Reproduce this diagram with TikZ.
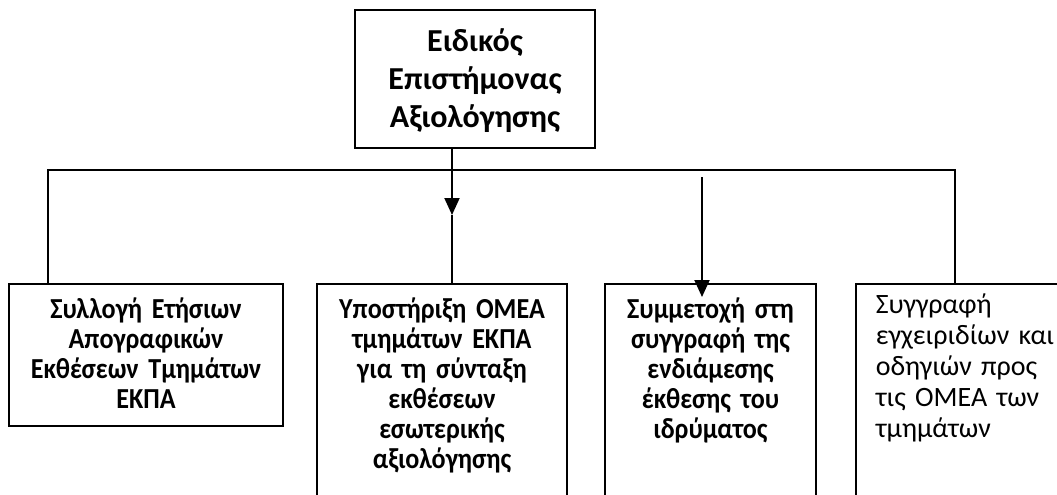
\documentclass[tikz,border=0pt]{standalone}
\usepackage{fontspec}
\setmainfont{Carlito}
\newfontfamily\narrowfont[FakeStretch=0.9]{Carlito}
\usetikzlibrary{positioning, arrows.meta}
\newcommand{\jline}[1]{\makebox[\linewidth][s]{#1}}
\lineskiplimit=-100pt

\begin{document}
\begin{tikzpicture}[x=1pt, y=-1pt, line width=2pt,
  box/.style={draw, line width=1.6pt, inner sep=0pt, align=center, anchor=north, text height=35pt, text depth=230pt, font=\narrowfont\bfseries\fontsize{29}{30}\selectfont},
  arr/.style={-{Triangle[width=15pt, length=17pt]}}]
\useasboundingbox (0,0) rectangle (1057,495);
\clip (0,0) rectangle (1057,495);
\node[box, text width=240pt, text height=42pt, text depth=96pt, font=\bfseries\fontsize{32}{38}\selectfont] (chief) at (475,9) {Ειδικός\\Επιστήμονας\\Αξιολόγησης};
\node[box, text width=274pt, text depth=107pt] (collect) at (146,283) {Συλλογή Ετήσιων\\Απογραφικών\\Εκθέσεων Τμημάτων\\ΕΚΠΑ};
\node[box, text width=250pt] (support) at (442,283) {Υποστήριξη ΟΜΕΑ\\τμημάτων ΕΚΠΑ\\για τη σύνταξη\\εκθέσεων\\εσωτερικής\\αξιολόγησης};
\node[box, text width=211pt] (interim) at (710.5,283) {Συμμετοχή στη\\συγγραφή της\\ενδιάμεσης\\έκθεσης του\\ιδρύματος};
\node[box, text width=168pt, inner xsep=20pt, text height=30pt, align=left, anchor=north west, font=\fontsize{28}{31}\selectfont] (guides) at (855,283) {Συγγραφή\\\jline{εγχειριδίων και}\\\jline{οδηγιών προς}\\\jline{τις ΟΜΕΑ των}\\τμημάτων};
\coordinate (hl) at (48,170);
\coordinate (hr) at (955,170);
\coordinate (tip) at (452,215);
\coordinate (from) at (702,177);
\coordinate (to) at (702,297);
\draw (collect.north -| hl) -- (hl) -- (hr) -- (hr |- guides.north);
\draw[arr] (tip |- chief.south) -- (tip);
\draw (tip) -- (tip |- support.north);
\draw[arr] (from) -- (to);
\end{tikzpicture}
\end{document}
